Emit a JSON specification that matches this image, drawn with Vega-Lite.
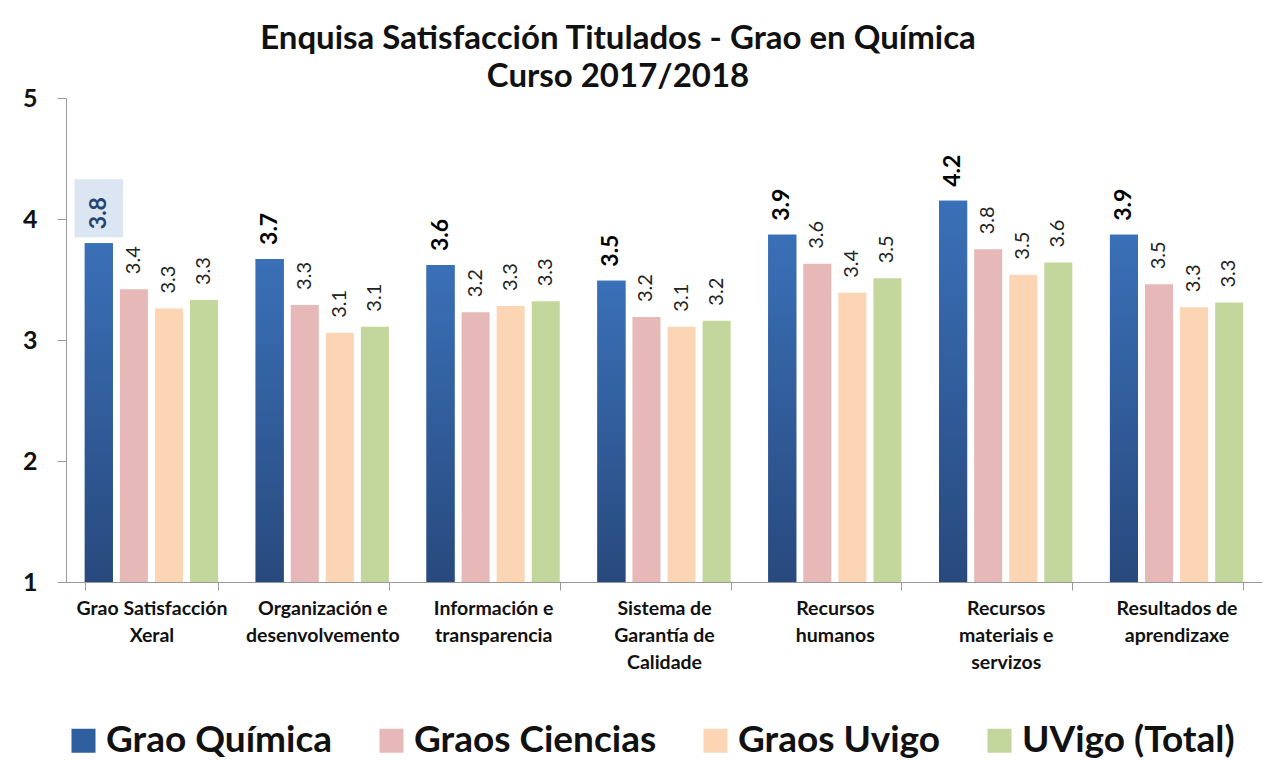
{
  "$schema": "https://vega.github.io/schema/vega-lite/v6.json",
  "width": 1196,
  "height": 484,
  "autosize": {"type": "none"},
  "padding": {"left": 66, "top": 98, "right": 10, "bottom": 178},
  "background": "white",
  "title": {
    "text": ["Enquisa Satisfacción Titulados - Grao en Química", "Curso 2017/2018"],
    "font": "Lato",
    "fontSize": 33,
    "fontWeight": "bold",
    "color": "#111111",
    "anchor": "middle",
    "frame": "group",
    "dx": -46,
    "dy": 16,
    "lineHeight": 38,
    "offset": 8
  },
  "config": {
    "view": {"stroke": null},
    "font": "Lato"
  },
  "data": {
    "values": [
      {"cat": "Grao Satisfacción Xeral", "serie": "Grao Química", "v": 3.80},
      {"cat": "Grao Satisfacción Xeral", "serie": "Graos Ciencias", "v": 3.42},
      {"cat": "Grao Satisfacción Xeral", "serie": "Graos Uvigo", "v": 3.26},
      {"cat": "Grao Satisfacción Xeral", "serie": "UVigo (Total)", "v": 3.33},
      {"cat": "Organización e desenvolvemento", "serie": "Grao Química", "v": 3.67},
      {"cat": "Organización e desenvolvemento", "serie": "Graos Ciencias", "v": 3.29},
      {"cat": "Organización e desenvolvemento", "serie": "Graos Uvigo", "v": 3.06},
      {"cat": "Organización e desenvolvemento", "serie": "UVigo (Total)", "v": 3.11},
      {"cat": "Información e transparencia", "serie": "Grao Química", "v": 3.62},
      {"cat": "Información e transparencia", "serie": "Graos Ciencias", "v": 3.23},
      {"cat": "Información e transparencia", "serie": "Graos Uvigo", "v": 3.28},
      {"cat": "Información e transparencia", "serie": "UVigo (Total)", "v": 3.32},
      {"cat": "Sistema de Garantía de Calidade", "serie": "Grao Química", "v": 3.49},
      {"cat": "Sistema de Garantía de Calidade", "serie": "Graos Ciencias", "v": 3.19},
      {"cat": "Sistema de Garantía de Calidade", "serie": "Graos Uvigo", "v": 3.11},
      {"cat": "Sistema de Garantía de Calidade", "serie": "UVigo (Total)", "v": 3.16},
      {"cat": "Recursos humanos", "serie": "Grao Química", "v": 3.87},
      {"cat": "Recursos humanos", "serie": "Graos Ciencias", "v": 3.63},
      {"cat": "Recursos humanos", "serie": "Graos Uvigo", "v": 3.39},
      {"cat": "Recursos humanos", "serie": "UVigo (Total)", "v": 3.51},
      {"cat": "Recursos materiais e servizos", "serie": "Grao Química", "v": 4.15},
      {"cat": "Recursos materiais e servizos", "serie": "Graos Ciencias", "v": 3.75},
      {"cat": "Recursos materiais e servizos", "serie": "Graos Uvigo", "v": 3.54},
      {"cat": "Recursos materiais e servizos", "serie": "UVigo (Total)", "v": 3.64},
      {"cat": "Resultados de aprendizaxe", "serie": "Grao Química", "v": 3.87},
      {"cat": "Resultados de aprendizaxe", "serie": "Graos Ciencias", "v": 3.46},
      {"cat": "Resultados de aprendizaxe", "serie": "Graos Uvigo", "v": 3.27},
      {"cat": "Resultados de aprendizaxe", "serie": "UVigo (Total)", "v": 3.31}
    ]
  },
  "encoding": {
    "x": {
      "field": "cat",
      "type": "nominal",
      "sort": null,
      "scale": {"paddingInner": 0.22, "paddingOuter": 0.11},
      "axis": {
        "title": null,
        "labelAngle": 0,
        "labelFont": "Lato",
        "labelFontSize": 19.5,
        "labelFontWeight": "bold",
        "labelColor": "#111111",
        "labelLineHeight": 27,
        "labelPadding": 9,
        "labelBaseline": "top",
        "labelLimit": 200,
        "tickBand": "extent",
        "tickSize": 8,
        "tickColor": "#999999",
        "domainColor": "#999999",
        "labelExpr": "datum.value == 'Grao Satisfacción Xeral' ? ['Grao Satisfacción', 'Xeral'] : datum.value == 'Organización e desenvolvemento' ? ['Organización e', 'desenvolvemento'] : datum.value == 'Información e transparencia' ? ['Información e', 'transparencia'] : datum.value == 'Sistema de Garantía de Calidade' ? ['Sistema de', 'Garantía de', 'Calidade'] : datum.value == 'Recursos humanos' ? ['Recursos', 'humanos'] : datum.value == 'Recursos materiais e servizos' ? ['Recursos', 'materiais e', 'servizos'] : datum.value == 'Resultados de aprendizaxe' ? ['Resultados de', 'aprendizaxe'] : ''"
      }
    },
    "xOffset": {
      "field": "serie",
      "type": "nominal",
      "sort": null,
      "scale": {"domain": ["Grao Química", "Graos Ciencias", "Graos Uvigo", "UVigo (Total)"], "paddingInner": 0.2, "paddingOuter": 0}
    },
    "y": {
      "field": "v",
      "type": "quantitative",
      "scale": {"domain": [1, 5], "nice": false, "zero": false},
      "axis": {
        "title": null,
        "values": [1, 2, 3, 4, 5],
        "grid": false,
        "labelFont": "Lato",
        "labelFontSize": 25,
        "labelFontWeight": "bold",
        "labelColor": "#111111",
        "labelPadding": 20,
        "tickSize": 9,
        "tickColor": "#999999",
        "domainColor": "#999999"
      }
    }
  },
  "layer": [
    {
      "mark": {"type": "bar"},
      "encoding": {
        "y2": {"datum": 1},
        "color": {
          "field": "serie",
          "type": "nominal",
          "scale": {
            "domain": ["Grao Química", "Graos Ciencias", "Graos Uvigo", "UVigo (Total)"],
            "range": ["#2f5e9f", "#e6b9b8", "#fcd5b5", "#c3d69b"]
          },
          "legend": {
            "title": null,
            "orient": "none",
            "direction": "horizontal",
            "legendX": -1,
            "legendY": 624,
            "symbolType": "square",
            "symbolSize": 576,
            "symbolStrokeWidth": 0,
            "symbolOpacity": 1,
            "labelFont": "Lato",
            "labelFontSize": 37,
            "labelFontWeight": "bold",
            "labelColor": "#111111",
            "labelOffset": 4,
            "labelLimit": 400,
            "columnPadding": 40
          }
        }
      }
    },
    {
      "transform": [{"filter": "datum.serie == 'Grao Química'"}],
      "mark": {
        "type": "bar",
        "color": {
          "gradient": "linear",
          "x1": 0, "y1": 1, "x2": 0, "y2": 0,
          "stops": [
            {"offset": 0, "color": "#28497d"},
            {"offset": 1, "color": "#3a70b8"}
          ]
        }
      },
      "encoding": {"y2": {"datum": 1}}
    },
    {
      "transform": [{"filter": "datum.serie == 'Grao Química' && datum.cat == 'Grao Satisfacción Xeral'"}],
      "mark": {
        "type": "point",
        "shape": "M-0.84,-1H0.84V1H-0.84Z",
        "size": 3364,
        "filled": true,
        "color": "#dce6f2",
        "opacity": 1,
        "yOffset": -35
      }
    },
    {
      "transform": [{"filter": "datum.serie != 'Grao Química'"}],
      "mark": {
        "type": "text",
        "angle": 270,
        "align": "left",
        "baseline": "middle",
        "dx": 15,
        "font": "Lato",
        "fontSize": 20,
        "color": "#222222"
      },
      "encoding": {
        "text": {"field": "v", "type": "quantitative", "format": ".1f"}
      }
    },
    {
      "transform": [{"filter": "datum.serie == 'Grao Química'"}],
      "mark": {
        "type": "text",
        "angle": 270,
        "align": "left",
        "baseline": "middle",
        "dx": 14,
        "font": "Lato",
        "fontSize": 23,
        "fontWeight": "bold"
      },
      "encoding": {
        "text": {"field": "v", "type": "quantitative", "format": ".1f"},
        "color": {
          "condition": {"test": "datum.cat == 'Grao Satisfacción Xeral'", "value": "#23446f"},
          "value": "#000000"
        }
      }
    }
  ]
}
